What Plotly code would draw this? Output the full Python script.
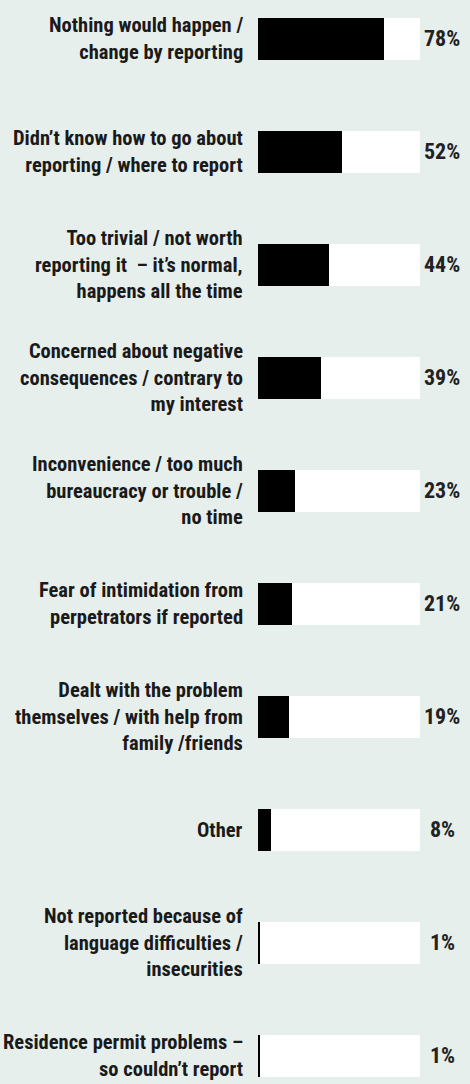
import plotly.graph_objects as go

categories = [
    "Nothing would happen /<br>change by reporting",
    "Didn’t know how to go about<br>reporting / where to report",
    "Too trivial / not worth<br>reporting it  – it’s normal,<br>happens all the time",
    "Concerned about negative<br>consequences / contrary to<br>my interest",
    "Inconvenience / too much<br>bureaucracy or trouble /<br>no time",
    "Fear of intimidation from<br>perpetrators if reported",
    "Dealt with the problem<br>themselves / with help from<br>family /friends",
    "Other",
    "Not reported because of<br>language difficulties /<br>insecurities",
    "Residence permit problems –<br>so couldn’t report",
]
values = [78, 52, 44, 39, 23, 21, 19, 8, 1, 1]
track_max = 100

BG = "#e7efed"
FONT = "Roboto Condensed, Open Sans Condensed, DejaVu Sans Condensed, sans-serif"
idx = list(range(len(categories)))

fig = go.Figure()
fig.add_trace(go.Bar(
    y=idx, x=[track_max] * len(values), orientation="h",
    marker=dict(color="white", line=dict(width=0)),
    width=0.37, hoverinfo="skip", showlegend=False,
))
fig.add_trace(go.Bar(
    y=idx, x=values, orientation="h",
    marker=dict(color="black", line=dict(width=0)),
    width=0.37, showlegend=False,
))

for i, (c, v) in enumerate(zip(categories, values)):
    fig.add_annotation(
        x=0, y=i, xref="paper", yref="y", text=f"<b>{c}</b>",
        showarrow=False, xanchor="right", yanchor="middle", align="right",
        xshift=-13,
        font=dict(family=FONT, size=20.5, color="#1a1a1a"),
    )
    fig.add_annotation(
        x=1.138, y=i, xref="paper", yref="y", text=f"<b>{v}%</b>",
        showarrow=False, xanchor="center", yanchor="middle",
        font=dict(family=FONT, size=22, color="#222222"),
    )

fig.update_layout(
    width=470, height=1084,
    margin=dict(l=258, r=50, t=0, b=0, autoexpand=False),
    paper_bgcolor=BG, plot_bgcolor=BG,
    barmode="overlay",
    bargap=0,
    xaxis=dict(range=[0, 100], visible=False, fixedrange=True, automargin=False),
    yaxis=dict(
        range=[9.25, -0.344],
        visible=False, automargin=False, fixedrange=True,
    ),
)

fig.write_html(
    "out.html",
    config={"displayModeBar": False},
    post_script="document.body.style.margin='0';document.body.style.overflow='hidden';",
)
